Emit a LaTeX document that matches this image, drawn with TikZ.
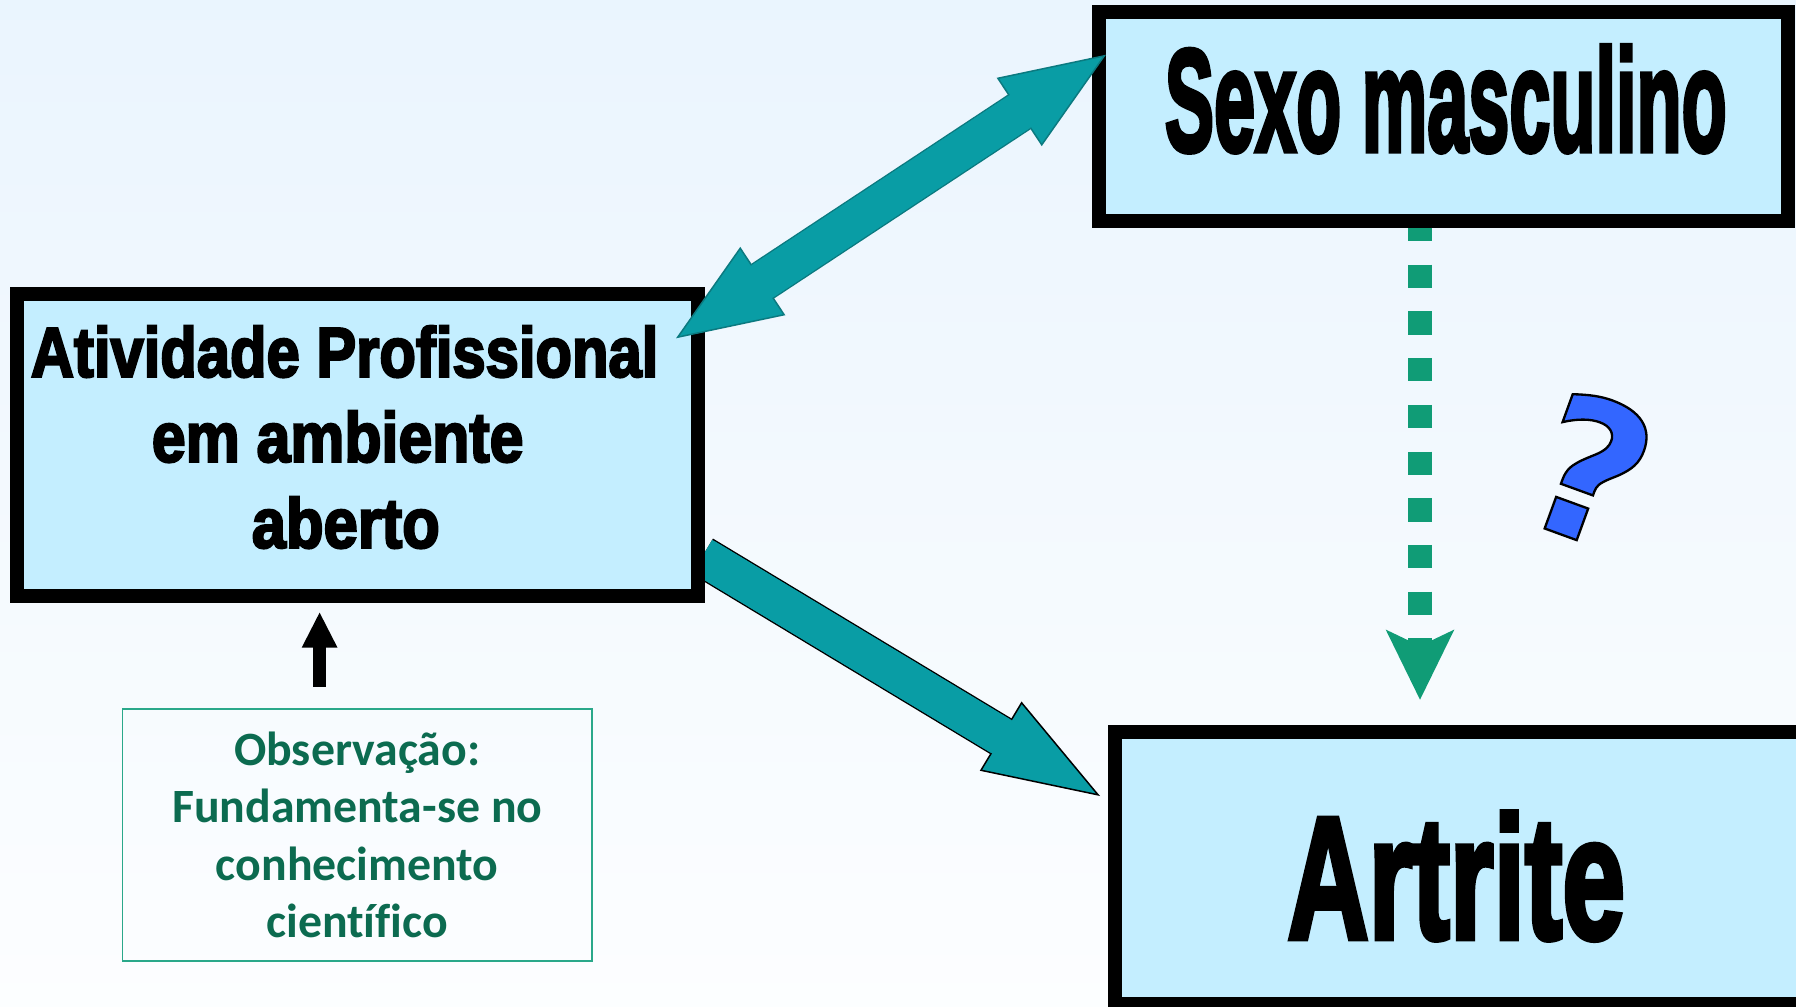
\documentclass[tikz,border=0pt]{standalone}
\usepackage{fontspec,graphicx}
\usetikzlibrary{arrows.meta,backgrounds}
\setmainfont{Liberation Sans}[BoldFeatures={FakeBold=3.5}]
\newfontfamily\obsfont[Ligatures=NoCommon]{Carlito}
\newfontfamily\questfont[FakeBold=1.2]{DejaVu Sans Bold}

\definecolor{bgtop}{RGB}{225,240,253}
\definecolor{boxfill}{RGB}{196,238,255}
\definecolor{arrowteal}{RGB}{9,157,165}
\definecolor{arrowedge}{RGB}{11,122,128}
\definecolor{dashgreen}{RGB}{16,156,118}
\definecolor{obsgreen}{RGB}{12,107,80}
\definecolor{obsedge}{RGB}{42,168,138}

\pgfdeclareverticalshading{bgfade}{100bp}{color(0bp)=(white); color(18bp)=(white); color(100bp)=(bgtop)}

% text placed by its offset from the centre of the box
\newcommand{\boxtext}[5]{\makebox[0pt]{\hspace*{#1}\raisebox{#2}[0pt][0pt]{\scalebox{#3}[#4]{\bfseries #5}}}}

\tikzset{
	tealtip/.tip={Triangle[length=1.04cm,width=0.815cm,fill=arrowteal,color=arrowedge,line width=0.015cm]},
	darktip/.tip={Triangle[length=1.16cm,width=0.805cm,fill=arrowteal,color=black,line width=0.015cm]},
	mainbox/.style={draw=black,fill=boxfill,line width=0.14cm,inner sep=0pt},
	obsbox/.style={draw=obsedge,line width=0.015cm,fill=none,align=center,text=obsgreen,inner sep=0pt,font=\fontsize{13.6}{16.3}\selectfont\obsfont\bfseries},
	bigarrow/.style={draw=#1,line width=0.015cm,double=arrowteal,double distance=0.385cm},
	shaftfill/.style={draw=arrowteal,line width=0.385cm},
	dashline/.style={draw=dashgreen,line width=0.235cm,dash pattern=on 0.233cm off 0.234cm,dash phase=0.097cm,-{Stealth[length=0.69cm,width=0.66cm,inset=0.15cm]}},
	obsarrow/.style={draw=black,line width=0.124cm,-{Triangle[length=0.36cm,width=0.33cm]}}
}

\begin{document}
\begin{tikzpicture}
	\useasboundingbox (0,0) rectangle (17.96,10.06);
	
	\node (sexo) at (14.435,8.895)[mainbox,minimum width=6.883cm,minimum height=2.084cm]{\boxtext{0.046cm}{-0.345cm}{2.10}{4.15}{Sexo masculino}};
	\node (ativ) at (3.575,5.61)[mainbox,minimum width=6.807cm,minimum height=3.026cm]{\boxtext{-0.258cm}{0.683cm}{1.70}{2.0}{Atividade Profissional}\boxtext{-0.396cm}{-0.167cm}{1.73}{2.0}{em ambiente}\boxtext{-0.234cm}{-1.027cm}{1.75}{2.0}{aberto}};
	\node (artrite) at (14.69,1.377)[mainbox,minimum width=7.08cm,minimum height=2.72cm]{\boxtext{-0.256cm}{-0.70cm}{3.2}{4.95}{Artrite}};
	\node (obs) at (3.572,1.71)[obsbox,minimum width=4.692cm,minimum height=2.523cm]{Observação:\\Fundamenta-se no\\conhecimento\\científico};
	\node (quest) at (15.91,5.37)[rotate=-20,inner sep=0pt]{\special{pdf:bcolor [0.2 0.4 1] [0 0 0]}\fontsize{55}{55}\selectfont\questfont ?\special{pdf:ecolor}};
	
	\coordinate (tipativ) at (6.76,6.677);
	\coordinate (tipsexo) at (11.06,9.513);
	\coordinate (tipart) at (11.00,2.10);
	\coordinate (tipdash) at (14.20,3.06);
	\coordinate (obsup) at (3.196,0);
	
	\begin{pgfonlayer}{background}
		\shade [shading=bgfade](0,0)rectangle(17.96,10.06);
		\draw [bigarrow=black,-darktip,shorten <=-0.03cm](ativ.-18.85)--(tipart);
		\draw [shaftfill,shorten >=1.13cm](ativ.-18.85)--(tipart);
	\end{pgfonlayer}
	
	\draw [bigarrow=arrowedge,tealtip-tealtip](tipativ)--(tipsexo);
	\draw [shaftfill,shorten <=1.01cm,shorten >=1.01cm](tipativ)--(tipsexo);
	
	\draw [dashline](sexo.south -| tipdash)--(tipdash);
	\draw [obsarrow,shorten <=0.215cm,shorten >=0.084cm](obsup |- obs.north)--(obsup |- ativ.south);
\end{tikzpicture}
\end{document}
